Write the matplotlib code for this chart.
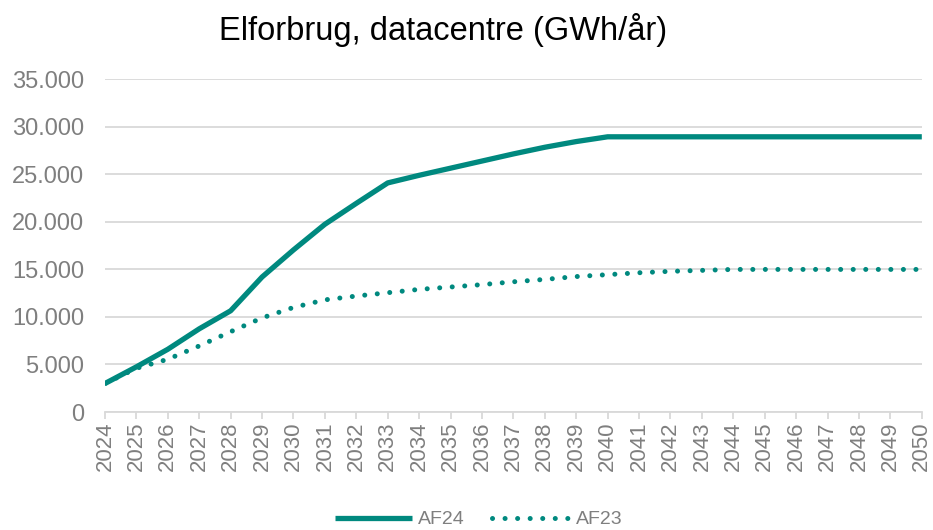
import matplotlib
matplotlib.use("Agg")
import matplotlib.pyplot as plt
from matplotlib.ticker import FuncFormatter

plt.rcParams['font.family'] = ['Liberation Sans', 'DejaVu Sans']

years = list(range(2024, 2051))
af24 = [3000, 4750, 6600, 8750, 10650, 14200, 17050, 19750, 21950, 24100, 24900,
        25650, 26400, 27150, 27850, 28450, 28950, 28950, 28950, 28950, 28950,
        28950, 28950, 28950, 28950, 28950, 28950]
af23 = [3000, 4600, 5550, 6950, 8450, 9900, 11000, 11800, 12200, 12550, 12900,
        13150, 13400, 13700, 13950, 14250, 14450, 14650, 14800, 14900, 15000,
        15000, 15000, 15000, 15000, 15000, 15000]
series_names = ['AF24', 'AF23']
title = 'Elforbrug, datacentre (GWh/år)'

teal = '#00897f'
grey = '#7f7f7f'

fig = plt.figure(figsize=(9.33, 5.3), dpi=100)
ax = fig.add_axes([0.1125, 0.2226, 0.8755, 0.6278])

ax.plot(years, af24, color=teal, lw=3.8, solid_capstyle='butt', label=series_names[0])
ax.plot(years, af23, color=teal, lw=3.6, linestyle=(0, (0.01, 2.5)),
        dash_capstyle='round', label=series_names[1])

ax.set_xlim(years[0], years[-1])
ax.set_ylim(0, 35000)
ax.set_yticks(range(0, 35001, 5000))
ax.yaxis.set_major_formatter(FuncFormatter(lambda v, _: f'{int(v):,}'.replace(',', '.')))
ax.set_xticks(years)
ax.set_xticklabels([str(y) for y in years], rotation=90)

ax.grid(axis='y', color='#d9d9d9', lw=1.3)
ax.set_axisbelow(True)
for s in ['top', 'right', 'left']:
    ax.spines[s].set_visible(False)
ax.spines['bottom'].set_color('#d9d9d9')
ax.spines['bottom'].set_linewidth(1.3)
ax.tick_params(axis='y', length=0, labelsize=17, labelcolor=grey, pad=15)
ax.tick_params(axis='x', length=5, color='#d9d9d9', width=1.3, labelsize=16, labelcolor=grey, pad=2)

fig.suptitle(title, fontsize=23.5, x=0.475, y=0.975)
fig.legend(loc='lower center', ncol=2, frameon=False, fontsize=14, labelcolor=grey,
           bbox_to_anchor=(0.513, -0.03), handlelength=4.0, columnspacing=1.4, handletextpad=0.3)

fig.savefig('out.png', dpi=100)
